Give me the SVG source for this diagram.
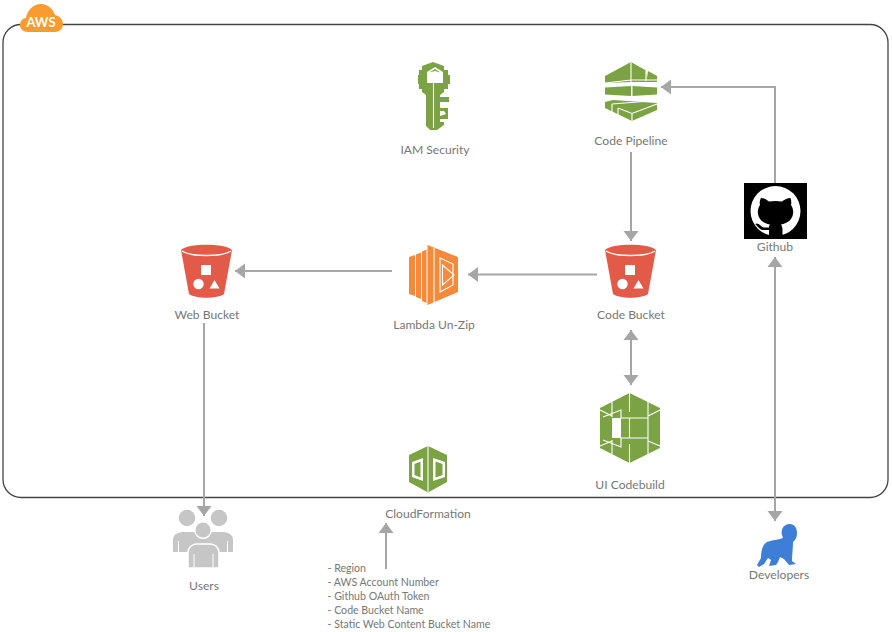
<svg xmlns="http://www.w3.org/2000/svg" width="892" height="632" viewBox="0 0 892 632">
<style>
text{font-family:Lato,"Open Sans","Liberation Sans",sans-serif;font-size:12.100px;fill:#777;text-anchor:middle}
.list{font-size:10.600px;text-anchor:start}
.c{fill:none;stroke:#a6a6a6;stroke-width:2}
.g{fill:#7BA344}.o{fill:#F68A3A}.r{fill:#E25A48}
.w{fill:none;stroke:#fff;stroke-width:1.100}
.u{fill:#c6c6c6}
</style>
<defs>
<marker id="a" markerUnits="userSpaceOnUse" markerWidth="16" markerHeight="16" refX="10" refY="8" orient="auto-start-reverse"><path d="M0 .5L10 8L0 15.500z" fill="#a6a6a6"/></marker>
<g id="bucket">
<path class="r" d="M0 6C6 -1 45 -1 51 6L43 50C36 55 15 55 8 50z"/>
<path d="M1 7C10 13 41 13 50 7" fill="none" stroke="#fff" stroke-width="1.500"/>
<rect x="20" y="21" width="10" height="10" fill="#fff"/>
<circle cx="17.500" cy="40" r="5.200" fill="#fff"/>
<path d="M33.500 36L38.500 44.500H28.500z" fill="#fff"/>
</g>
</defs>
<rect id="frame" x="3" y="24.500" width="885" height="473" rx="18" fill="none" stroke="#444" stroke-width="1.300"/>
<g id="aws">
<path d="M28 32C22 32 20 28 20 24.500C20 21 23 18 26 18C27 10 34 4 41 4C48 4 53 9 55 15C60 16 63 20 63 24C63 29 59 32 55 32z" fill="#F99B2E"/>
<text x="41" y="27" style="font-size:13px;font-weight:700;fill:#fff">AWS</text>
</g>
<g id="connectors">
<path class="c" marker-end="url(#a)" d="M775 183V87H661"/>
<path class="c" marker-end="url(#a)" d="M631 152V241"/>
<path class="c" marker-end="url(#a)" d="M597 274.500H468"/>
<path class="c" marker-end="url(#a)" d="M392 271H235"/>
<path class="c" marker-start="url(#a)" marker-end="url(#a)" d="M631 330V385"/>
<path class="c" marker-start="url(#a)" marker-end="url(#a)" d="M775 257V521"/>
<path class="c" marker-end="url(#a)" d="M204 323V516"/>
<path class="c" marker-end="url(#a)" d="M386 569V523"/>
</g>
<g id="iam">
<path class="g" d="M433 62L444 66V70H448V75H450V84H448V89H444V92L440 95V97H449V102H440V108H448V119H440V122H444V125L437 130H430L426 126V95L422 92V89H419V84H418V75H419V70H422V66z"/>
<path d="M427 83V72L435 67L443 72V83z" fill="#fff"/>
<path class="g" d="M429.500 72.500L435 69L440.500 72.500L435 71z"/>
<path d="M433.500 83V128" stroke="#fff" stroke-width="1.100"/>
<path d="M440 111H444L446 114L440 116z" fill="#fff"/>
<text x="435" y="154">IAM Security</text>
</g>
<g id="pipeline">
<path class="g" d="M605 76L631 62L646 70.500L647 78L648 71L657 76V82H632L605 83z"/>
<path class="g" d="M605 87.500L631 86V96L605 94.500zM632.500 86L657 87.500V94.500L632.500 96z"/>
<path class="g" d="M605 102L613 100L657 103V110L632 121L605 108z"/>
<path class="w" d="M631 62V82M646 70.500V81M605 83L631 80L657 80M612 104L650 101M618 108L632 113.500L657 104M612 104V113M618 108V116M632 113.500V121"/>
<text x="631" y="145">Code Pipeline</text>
</g>
<g id="github">
<rect x="744" y="183" width="63" height="56" fill="#000"/>
<circle cx="775.500" cy="211" r="25" fill="#fff"/>
<path fill="#000" d="M761 198C764 198 767 200 769 201.500C773 200.700 778 200.700 782 201.500C784 200 787 198 790.500 198C791.500 201 791.500 203 791 205C793 208 793.500 211 793 214C792 220 787 223.500 781 224.500C782 226 782.500 228 782.500 230V236H769V230L763 230C759 229.500 758 226 755 224L757 223.500C760 224 761 227 764 227.500H769C769 226 769.500 225.300 770 224.500C764 223.500 759 220 758 214C757.500 211 758 208 760 205C759.500 203 759.500 201 761 198z"/>
<text x="775" y="251">Github</text>
</g>
<g id="web-bucket">
<use href="#bucket" x="181" y="244"/>
<text x="207" y="319">Web Bucket</text>
</g>
<g id="lambda">
<path class="o" d="M409 257L415 255V296L409 294zM416 254.500L421 252.500V299L416 297zM422 251.500L426.500 249.500V303L422 301zM427.500 245L458 257V292L427.500 305z"/>
<path d="M434 247.500V302.500" stroke="#fff" stroke-width="1.100"/>
<path class="w" d="M440 258L453 264V285L440 292z"/>
<path class="w" stroke-width="1.300" d="M442.500 265L454 275L442.500 285z"/>
<text x="434" y="329">Lambda Un-Zip</text>
</g>
<g id="code-bucket">
<use href="#bucket" x="605" y="244"/>
<text x="631" y="319">Code Bucket</text>
</g>
<g id="codebuild">
<path class="g" d="M629.500 393L660 408V448L629.500 463L600 448V408z"/>
<path class="w" d="M612 400V417M612 440V457M648 402V457M629.500 393V412M629.500 444V463M600 410L612 416M660 410L648 416M600 446L612 441M660 446L648 441"/>
<path class="w" d="M603 417L621 410V418H648M648 438H621V447L603 440"/>
<path d="M612 418H621V438H612z" fill="#fff"/>
<path d="M629.500 418V438" stroke="#fff" stroke-width="1.100"/>
<text x="630" y="489">UI Codebuild</text>
</g>
<g id="cloudformation">
<path class="g" d="M428 446L447 455V482L428 492.500L409 482V455z"/>
<path d="M428 446V492.500" stroke="#fff" stroke-width="1.100"/>
<path d="M412 462L423 458V481L412 477zM433 458L445 462V477L433 481z" fill="#fff"/>
<path class="g" d="M414.500 464L420.500 461.500V477.500L414.500 475zM435.500 461.500L442.500 464V475L435.500 477.500z"/>
<text x="428" y="518">CloudFormation</text>
</g>
<g id="users">
<circle class="u" cx="187" cy="518" r="8.300"/>
<circle class="u" cx="219" cy="518" r="8.300"/>
<path class="u" d="M173 552V540Q173 533 182 532H224Q233 533 233 540V552z"/>
<path d="M178.500 541V552M227.500 541V552" stroke="#fff" stroke-width="1"/>
<circle class="u" cx="203" cy="530" r="8.300" stroke="#fff" stroke-width="1.500"/>
<path class="u" stroke="#fff" stroke-width="1.500" d="M188 568V552Q189 545 196 544H211Q218 545 219 552V568z"/>
<path d="M194 554V567M213 554V567" stroke="#fff" stroke-width="1"/>
<text x="204" y="590">Users</text>
</g>
<g id="developers">
<path fill="#3D7FD6" d="M782 530C784 523 793 522 796 528C798 533 797 539 793 542C793 548 792 556 792 561L796 564L789 565L784 559L780 557L778 562L776 565L769 566L771 560L768 558L764 564L759 567L757 565L761 558C761 552 762 545 767 542C772 540 778 540 783 538C782 535 781 533 782 530z"/>
<text x="779" y="579">Developers</text>
</g>
<g id="parameters">
<text class="list" x="327.500" y="572">- Region</text>
<text class="list" x="327.500" y="586">- AWS Account Number</text>
<text class="list" x="327.500" y="600">- Github OAuth Token</text>
<text class="list" x="327.500" y="614">- Code Bucket Name</text>
<text class="list" x="327.500" y="628">- Static Web Content Bucket Name</text>
</g>
</svg>
